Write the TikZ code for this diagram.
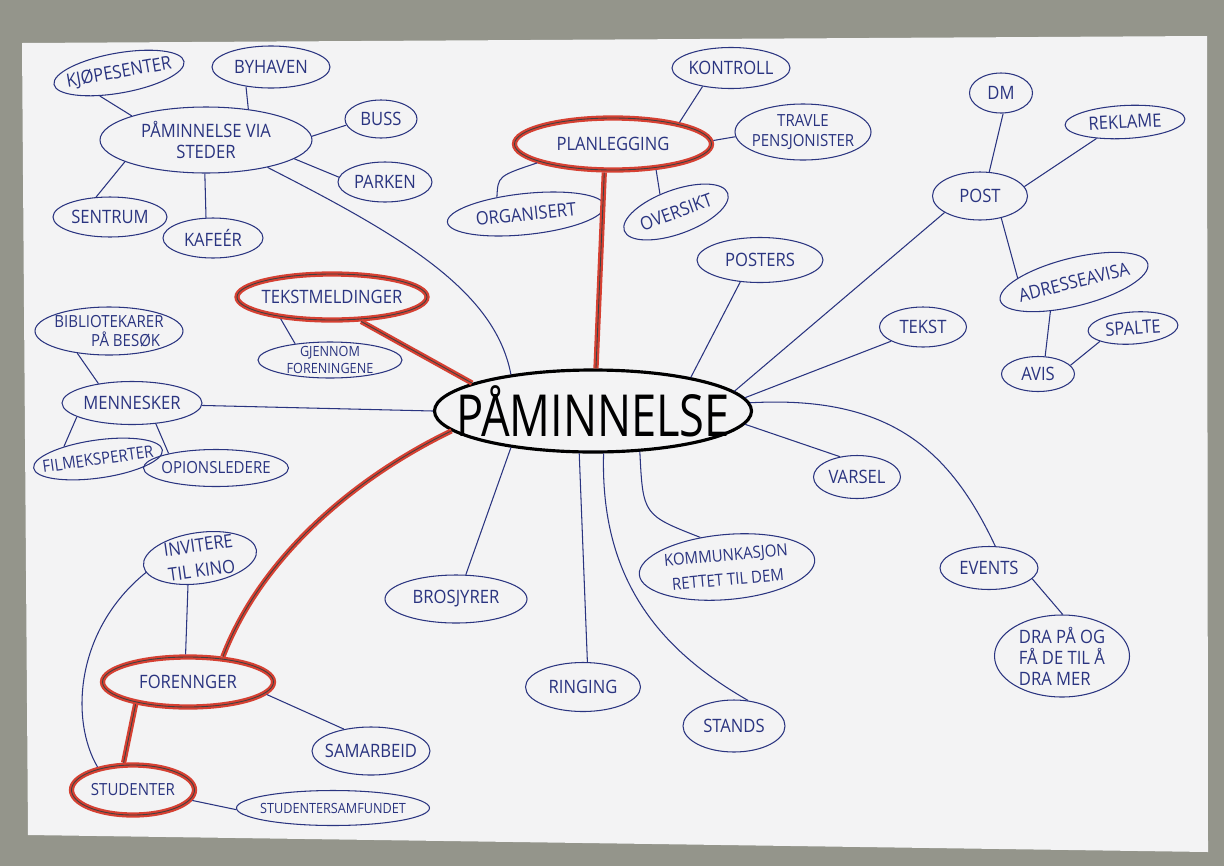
\documentclass[tikz,border=0pt]{standalone}
\usepackage{fontspec}
\usetikzlibrary{shapes.geometric}
\newfontfamily\hand[FakeStretch=0.9]{Open Sans}
\newfontfamily\handbig[FakeStretch=0.78]{Open Sans}
\definecolor{ink}{RGB}{42,52,128}
\definecolor{hlred}{RGB}{214,64,50}
\definecolor{paper}{RGB}{243,243,244}
\definecolor{wall}{RGB}{148,149,139}

\begin{document}
\begin{tikzpicture}[x=0.02cm, y=-0.02cm,
  bub/.style={ellipse, draw=ink, line width=0.6pt, text=ink, inner sep=-80pt,
    align=center, font=\hand\fontsize{10.5}{12}\selectfont},
  sz/.style 2 args={minimum width=#1*0.02cm, minimum height=#2*0.02cm},
  small/.style={font=\hand\fontsize{8}{9.5}\selectfont},
  mid/.style={font=\hand\fontsize{9.5}{11}\selectfont},
  hl/.style={draw=hlred, line width=3pt, postaction={draw=black!75, line width=0.5pt}},
  hlline/.style={draw=hlred, line width=3pt, postaction={draw=black!75, line width=0.5pt}},
  ln/.style={draw=ink, line width=0.6pt}]
  \useasboundingbox (0,0) rectangle (1224,866);
  \fill[wall] (0,0) rectangle (1224,866);
  \fill[paper] (22,43) -- (1207,36) -- (1208,852) -- (28,835) -- cycle;

  % centre
  \node[bub, sz={317}{82}, draw=black, line width=1.8pt, text=black,
    font=\handbig\fontsize{33}{36}\selectfont] (main) at (593,411) {PÅMINNELSE};

  % places
  \node[bub, sz={212}{66}] (steder) at (206,140) {PÅMINNELSE VIA\\STEDER};
  \node[bub, sz={132}{40}, rotate=10] (kjop) at (119,73) {KJØPESENTER};
  \node[bub, sz={118}{42}] (byhaven) at (271,67) {BYHAVEN};
  \node[bub, sz={72}{38}] (buss) at (381,119) {BUSS};
  \node[bub, sz={94}{40}] (parken) at (385,182) {PARKEN};
  \node[bub, sz={114}{40}] (sentrum) at (110,217) {SENTRUM};
  \node[bub, sz={100}{40}] (kafe) at (213,238) {KAFEÉR};

  % planning
  \node[bub, hl, sz={197}{52}] (plan) at (613,144) {PLANLEGGING};
  \node[bub, sz={118}{41}] (kontroll) at (731,68) {KONTROLL};
  \node[bub, mid, sz={136}{56}] (travle) at (803,132) {TRAVLE\\PENSJONISTER};
  \node[bub, sz={158}{41}, rotate=6] (org) at (526,214) {ORGANISERT};
  \node[bub, sz={110}{44}, rotate=20] (overs) at (676,212) {OVERSIKT};
  \node[bub, sz={126}{45}] (posters) at (760,260) {POSTERS};

  % post
  \node[bub, sz={63}{40}] (dm) at (1001,93) {DM};
  \node[bub, sz={120}{33}, rotate=3] (rek) at (1125,122) {REKLAME};
  \node[bub, sz={95}{48}] (post) at (980,196) {POST};
  \node[bub, sz={152}{48}, rotate=14] (adr) at (1074,282) {ADRESSEAVISA};
  \node[bub, sz={87}{40}] (tekst) at (923,327) {TEKST};
  \node[bub, sz={90}{32}, rotate=4] (spalte) at (1133,328) {SPALTE};
  \node[bub, sz={73}{35}] (avis) at (1038,374) {AVIS};

  % people
  \node[bub, hl, sz={190}{46}] (tekstm) at (332,297) {TEKSTMELDINGER};
  \node[bub, small, sz={144}{36}] (gjennom) at (330,360) {GJENNOM\\FORENINGENE};
  \node[bub, mid, sz={148}{48}] (bib) at (109,331) {BIBLIOTEKARER\\\hspace*{2em}PÅ BESØK};
  \node[bub, sz={140}{43}] (menn) at (132,403) {MENNESKER};
  \node[bub, mid, sz={130}{38}, rotate=8] (film) at (98,459) {FILMEKSPERTER};
  \node[bub, mid, sz={145}{37}] (opion) at (216,468) {OPIONSLEDERE};

  % lower half
  \node[bub, sz={87}{43}] (varsel) at (857,477) {VARSEL};
  \node[bub, sz={114}{51}, rotate=8, font=\hand\fontsize{10.5}{14.5}\selectfont] (invit) at (200,558) {INVITERE\\TIL KINO};
  \node[bub, sz={142}{48}] (bros) at (456,599) {BROSJYRER};
  \node[bub, sz={176}{65}, rotate=5, font=\hand\fontsize{9.5}{14}\selectfont] (komm) at (727,567) {KOMMUNKASJON\\RETTET TIL DEM};
  \node[bub, sz={98}{43}] (events) at (989,568) {EVENTS};
  \node[bub, sz={135}{82}, align=left] (dra) at (1062,656) {DRA PÅ OG\\FÅ DE TIL Å\\DRA MER};
  \node[bub, hl, sz={171}{50}] (forenn) at (188,682) {FORENNGER};
  \node[bub, sz={115}{49}] (ring) at (583,687) {RINGING};
  \node[bub, sz={102}{52}] (stands) at (734,726) {STANDS};
  \node[bub, sz={118}{48}] (samarb) at (371,751) {SAMARBEID};
  \node[bub, hl, mid, sz={123}{50}] (stud) at (133,790) {STUDENTER};
  \node[bub, small, sz={193}{35}] (studsamf) at (333,808) {STUDENTERSAMFUNDET};

  % connectors
  \draw[ln] (steder.162) -- (kjop.-140);
  \draw[ln] (steder.36) -- (byhaven.-142);
  \draw[ln] (steder.2) -- (buss.-170);
  \draw[ln] (steder.-12) -- (parken.174);
  \draw[ln] (steder.-165) -- (sentrum.125);
  \draw[ln] (steder.-92) -- (kafe.109);
  \draw[ln] (steder.-24) .. controls (400,235) and (495,290) .. (main.156);
  \draw[ln] (plan.18) -- (kontroll.-147);
  \draw[ln] (plan.2) -- (travle.-176);
  \draw[ln] (plan.-166) .. controls (498,176) .. (org.144);
  \draw[ln] (plan.-31) -- (overs.112);
  \draw[hlline] (plan.-107) -- (main.86);
  \draw[ln] (main.19) -- (posters.-132);
  \draw[ln] (main.8) -- (post.-155);
  \draw[ln] (main.5) -- (tekst.-156);
  \draw[ln] (post.69) -- (dm.-84);
  \draw[ln] (post.12) -- (rek.-153);
  \draw[ln] (post.-46) -- (adr.162);
  \draw[ln] (adr.-143) -- (avis.68);
  \draw[ln] (avis.15) -- (spalte.-162);
  \draw[ln] (main.-5) -- (varsel.130);
  \draw[ln] (main.3) .. controls (890,395) and (950,450) .. (events.74);
  \draw[ln] (events.-14) -- (dra.89);
  \draw[ln] (main.-41) .. controls (643,515) .. (komm.127);
  \draw[ln] (main.-76) .. controls (600,580) and (660,650) .. (stands.61);
  \draw[ln] (main.-108) -- (ring.80);
  \draw[ln] (main.-156) -- (bros.68);
  \draw[hlline] (main.-172) .. controls (350,480) and (260,560) .. (forenn.36);
  \draw[hlline] (main.167) -- (tekstm.-40);
  \draw[ln] (tekstm.-157) -- (gjennom.155);
  \draw[ln] (main.180) -- (menn.-2);
  \draw[ln] (menn.150) -- (bib.-145);
  \draw[ln] (menn.-166) -- (film.152);
  \draw[ln] (menn.-41) -- (opion.163);
  \draw[ln] (invit.-122) -- (forenn.95);
  \draw[ln] (invit.-173) .. controls (75,630) and (70,720) .. (stud.147);
  \draw[ln] (forenn.-9) -- (samarb.141);
  \draw[hlline] (forenn.-157) -- (stud.109);
  \draw[ln] (stud.-10) -- (studsamf.181);
\end{tikzpicture}
\end{document}
